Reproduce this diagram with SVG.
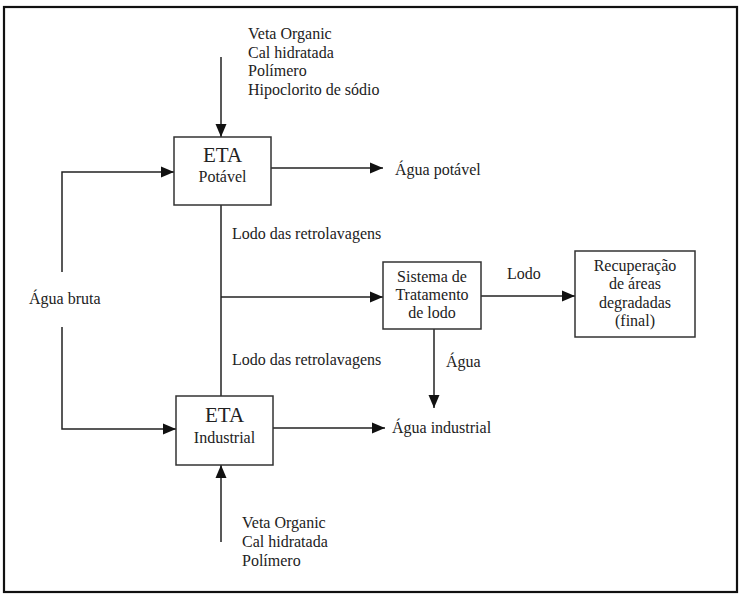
<svg xmlns="http://www.w3.org/2000/svg" width="741" height="596" viewBox="0 0 741 596">
<defs>
<style>
.t{font-family:'Liberation Serif','Times New Roman',Times,'DejaVu Serif',serif;font-size:16px;fill:#222}
.big{font-size:21px}
.box{fill:#fff;stroke:#333;stroke-width:1.5}
.c{fill:none;stroke:#222;stroke-width:1.5}
.a{marker-end:url(#arr)}
</style>
<marker id="arr" markerUnits="userSpaceOnUse" markerWidth="14" markerHeight="12" refX="13" refY="6" orient="auto">
<path d="M0,0.5 L13,6 L0,11.5 z" fill="#111"/>
</marker>
</defs>
<rect width="741" height="596" fill="#fff"/>
<rect x="4" y="7" width="733" height="585" fill="none" stroke="#111" stroke-width="2.2"/>

<g id="connectors">
<path class="c a" d="M221,57 V137"/>
<path class="c a" d="M62,272 V172 H174"/>
<path class="c a" d="M62,327 V429 H176"/>
<path class="c a" d="M271,168 H383"/>
<path class="c" d="M221,205 V397"/>
<path class="c a" d="M221,297 H383"/>
<path class="c a" d="M481,296 H575"/>
<path class="c a" d="M434,329 V408"/>
<path class="c a" d="M273,428 H385"/>
<path class="c a" d="M221,542 V465"/>
</g>

<g id="label-top-inputs">
<text class="t" font-family="Liberation Serif, serif" x="248" y="39">Veta Organic</text>
<text class="t" x="248" y="57.5">Cal hidratada</text>
<text class="t" x="248" y="76">Polímero</text>
<text class="t" x="248" y="94.5">Hipoclorito de sódio</text>
</g>

<g id="eta-potavel">
<rect class="box" x="174" y="137" width="97" height="68"/>
<text class="t big" x="222.5" y="162" text-anchor="middle">ETA</text>
<text class="t" x="222.5" y="182" text-anchor="middle">Potável</text>
</g>

<g id="agua-potavel">
<text class="t" x="395" y="175">Água potável</text>
</g>

<g id="agua-bruta">
<text class="t" x="29" y="304">Água bruta</text>
</g>

<g id="lodo-labels">
<text class="t" x="232" y="239">Lodo das retrolavagens</text>
<text class="t" x="232" y="365">Lodo das retrolavagens</text>
</g>

<g id="sistema-tratamento">
<rect class="box" x="383" y="262" width="98" height="67"/>
<text class="t" x="432" y="282" text-anchor="middle">Sistema de</text>
<text class="t" x="432" y="300" text-anchor="middle">Tratamento</text>
<text class="t" x="432" y="318" text-anchor="middle">de lodo</text>
</g>

<g id="lodo-label">
<text class="t" x="507" y="279">Lodo</text>
</g>

<g id="recuperacao">
<rect class="box" x="575" y="251" width="120" height="86"/>
<text class="t" x="635" y="271" text-anchor="middle">Recuperação</text>
<text class="t" x="635" y="289" text-anchor="middle">de áreas</text>
<text class="t" x="635" y="307.5" text-anchor="middle">degradadas</text>
<text class="t" x="635" y="326" text-anchor="middle">(final)</text>
</g>

<g id="agua-label">
<text class="t" x="446" y="367">Água</text>
</g>

<g id="eta-industrial">
<rect class="box" x="176" y="396" width="97" height="69"/>
<text class="t big" x="224.5" y="422" text-anchor="middle">ETA</text>
<text class="t" x="224.5" y="443" text-anchor="middle">Industrial</text>
</g>

<g id="agua-industrial">
<text class="t" x="392" y="433">Água industrial</text>
</g>

<g id="label-bottom-inputs">
<text class="t" x="242" y="528">Veta Organic</text>
<text class="t" x="242" y="547">Cal hidratada</text>
<text class="t" x="242" y="566">Polímero</text>
</g>
</svg>
